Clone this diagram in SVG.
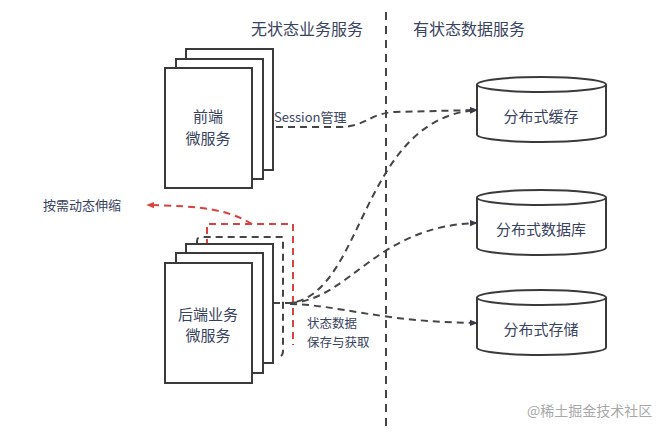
<svg xmlns="http://www.w3.org/2000/svg" width="667" height="432" viewBox="0 0 667 432">
<defs>
<style>
text{font-family:"Noto Sans CJK SC","Liberation Sans",sans-serif;fill:#38435e}
.box{fill:#fff;stroke:#3a3a3a;stroke-width:2}
.cyl{fill:#fff;stroke:#3a3a3a;stroke-width:2}
.dash{fill:none;stroke:#454545;stroke-width:2;stroke-dasharray:7 5}
.red{fill:none;stroke:#d9423f;stroke-width:2;stroke-dasharray:7 5}
.lbl{font-size:15px;text-anchor:middle}
.hdr{font-size:16px;text-anchor:middle}
.sm{font-size:13px}
.st{font-size:12.5px}
</style>
<marker id="ah" viewBox="0 0 10 10" refX="9" refY="5" markerWidth="8" markerHeight="8" markerUnits="userSpaceOnUse" orient="auto">
<path d="M0,1 L10,5 L0,9 Z" fill="#3a3a4a"/>
</marker>
<marker id="ahr" viewBox="0 0 10 10" refX="9" refY="5" markerWidth="8" markerHeight="8" markerUnits="userSpaceOnUse" orient="auto">
<path d="M0,1 L10,5 L0,9 Z" fill="#d9423f"/>
</marker>
</defs>
<rect width="667" height="432" fill="#fff"/>

<g id="headers">
<text class="hdr" x="307" y="35">无状态业务服务</text>
<text class="hdr" x="469" y="35">有状态数据服务</text>
<line x1="386" y1="12" x2="386" y2="432" class="dash" style="stroke-dasharray:8 6"/>
</g>

<g id="connectors">
<path class="red" d="M207 246 L207 224 L293 224 L293 345"/>
<path class="dash" d="M197 244 L197 241 Q197 237 201 237 L283 237 L283 351 Q283 357 277 357"/>
<path class="red" d="M252 224 C228 210 205 206 147 205" marker-end="url(#ahr)"/>
<path class="dash" d="M252 127 L340 127 C365 127 370 113 395 112 L477 110" marker-end="url(#ah)"/>
<path class="dash" d="M273 303 L290 303 C365 294 360 118 477 110" marker-end="url(#ah)"/>
<path class="dash" d="M290 303 C350 300 375 226 477 223" marker-end="url(#ah)"/>
<path class="dash" d="M290 304 C340 305 380 322 477 323" marker-end="url(#ah)"/>
</g>

<g id="frontend">
<rect class="box" x="186" y="49" width="87" height="121"/>
<rect class="box" x="176" y="59" width="87" height="120"/>
<rect class="box" x="165" y="68" width="87" height="120"/>
<text class="lbl" x="208" y="122">前端</text>
<text class="lbl" x="208" y="144">微服务</text>
</g>

<g id="backend">
<rect class="box" x="186" y="244" width="87" height="119"/>
<rect class="box" x="176" y="253" width="87" height="120"/>
<rect class="box" x="165" y="263" width="87" height="120"/>
<text class="lbl" x="208" y="320">后端业务</text>
<text class="lbl" x="208" y="341">微服务</text>
</g>

<g id="cache">
<path class="cyl" d="M477 84.5 L477 134.5 A64.5 7.5 0 0 0 606 134.5 L606 84.5"/>
<ellipse class="cyl" cx="541.5" cy="84.5" rx="64.5" ry="7.5"/>
<text class="lbl" x="541" y="122">分布式缓存</text>
</g>

<g id="database">
<path class="cyl" d="M477 197.5 L477 247.5 A64.5 7.5 0 0 0 606 247.5 L606 197.5"/>
<ellipse class="cyl" cx="541.5" cy="197.5" rx="64.5" ry="7.5"/>
<text class="lbl" x="541" y="235">分布式数据库</text>
</g>

<g id="storage">
<path class="cyl" d="M477 297.5 L477 347.5 A64.5 7.5 0 0 0 606 347.5 L606 297.5"/>
<ellipse class="cyl" cx="541.5" cy="297.5" rx="64.5" ry="7.5"/>
<text class="lbl" x="541" y="335">分布式存储</text>
</g>

<g id="labels">
<text class="sm" x="274" y="122">Session管理</text>
<text class="sm" x="43" y="210">按需动态伸缩</text>
<text class="st" x="307" y="328">状态数据</text>
<text class="st" x="307" y="347">保存与获取</text>
<text x="527" y="416" style="font-size:14px;fill:#a8a8a8">@稀土掘金技术社区</text>
</g>
</svg>
